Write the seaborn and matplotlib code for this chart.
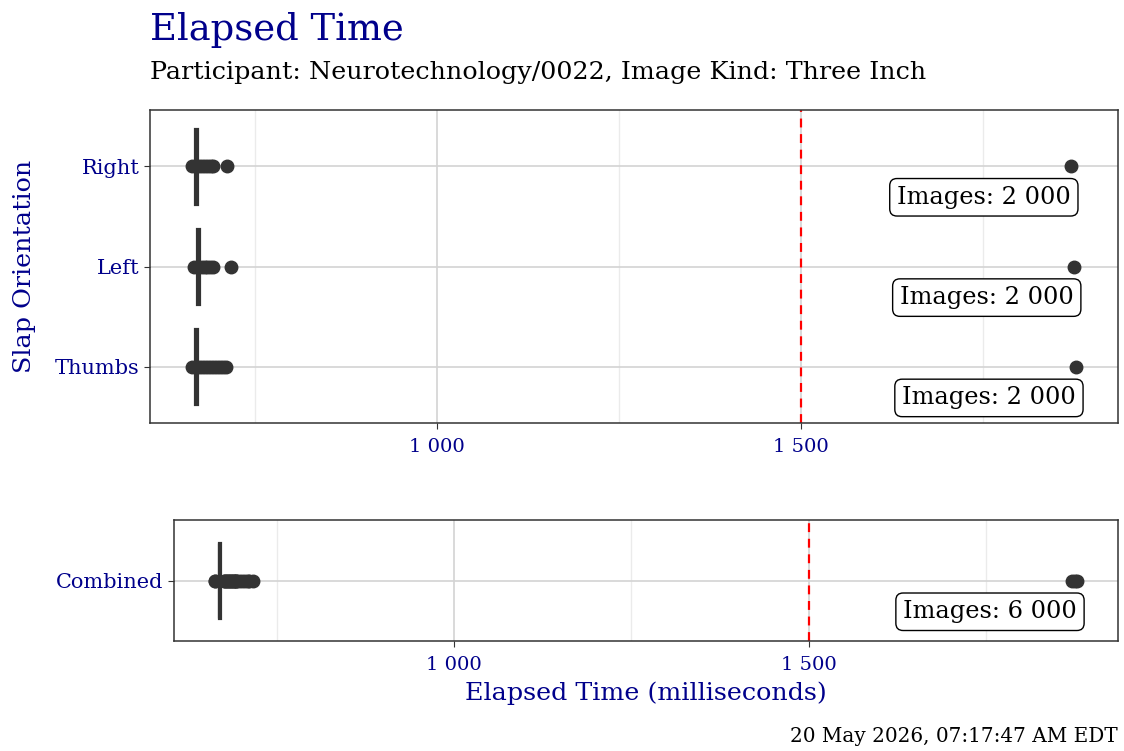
import numpy as np
import pandas as pd
import matplotlib.pyplot as plt
from matplotlib.ticker import FuncFormatter, FixedLocator
import seaborn as sb

# Slap orientations (top panel order)
orientations = ['Right', 'Left', 'Thumbs']

# Bulk of the elapsed times (ms) and how many images sit at each value
bulk_values = {
    'Right': [667, 668, 669],
    'Left': [670, 671, 672],
    'Thumbs': [667, 668, 669],
}
bulk_counts = {
    'Right': [600, 800, 591],
    'Left': [600, 800, 592],
    'Thumbs': [600, 800, 588],
}
# Outlying images
outliers = {
    'Right': [663, 673, 677, 681, 685, 689, 692, 711, 1871],
    'Left': [666, 676, 680, 684, 688, 692, 716, 1875],
    'Thumbs': [663, 673, 677, 681, 685, 689, 693, 697, 701, 705, 709, 1878],
}

title = 'Elapsed Time'
subtitle = 'Participant: Neurotechnology/0022, Image Kind: Three Inch'
timestamp = '20 May 2026, 07:17:47 AM EDT'
threshold = 1500
major_ticks = [1000, 1500]
minor_ticks = [750, 1250, 1750]

NAVY = '#00008B'
DARK = '#333333'

rows = []
for o in orientations:
    vals = list(np.repeat(bulk_values[o], bulk_counts[o])) + outliers[o]
    rows += [(o, v) for v in vals]
df = pd.DataFrame(rows, columns=['orientation', 'ms'])
df_all = df.assign(orientation='Combined')

sb.set_style('white')
plt.rcParams['font.family'] = ['DejaVu Serif']

fig = plt.figure(figsize=(11.24, 7.51), dpi=100)
ax1 = fig.add_axes([150 / 1124, 1 - 423 / 751, 968 / 1124, 313 / 751])
ax2 = fig.add_axes([174 / 1124, 1 - 641 / 751, 944 / 1124, 121 / 751])

flier = dict(marker='o', markerfacecolor=DARK, markeredgecolor=DARK, markersize=9)


def space_thousands(x, pos):
    return f'{int(x):,}'.replace(',', ' ')


def style_panel(ax, data, order, ylim):
    sb.boxplot(data=data, x='ms', y='orientation', order=order, orient='h',
               width=0.75, color='white', linecolor=DARK, linewidth=2.3,
               flierprops=flier, capprops=dict(linewidth=0), ax=ax)
    ax.axvline(threshold, color='red', linestyle=(0, (4, 3)), linewidth=1.6)
    ax.set_xlim(605, 1936)
    ax.set_ylim(*ylim)
    ax.set_xticks(major_ticks)
    ax.xaxis.set_minor_locator(FixedLocator(minor_ticks))
    ax.grid(False)
    ax.grid(True, which='minor', axis='x', color='#ebebeb', linewidth=1)
    ax.grid(True, which='major', axis='both', color='#d3d3d3', linewidth=1.2)
    ax.set_axisbelow(True)
    ax.xaxis.set_major_formatter(FuncFormatter(space_thousands))
    ax.tick_params(axis='both', which='major', length=4, color=DARK,
                   labelcolor=NAVY, left=True, bottom=True)
    ax.tick_params(axis='x', which='major', labelsize=14, pad=7)
    ax.tick_params(axis='y', which='major', labelsize=15)
    ax.tick_params(axis='x', which='minor', length=0)
    for s in ax.spines.values():
        s.set_color(DARK)
        s.set_linewidth(1.1)
    for i, o in enumerate(order):
        g = data.loc[data['orientation'] == o, 'ms']
        ax.text(g.max(), i + 0.31, f'Images: {space_thousands(len(g), 0)}',
                ha='right', va='center', fontsize=17.4, color='black',
                bbox=dict(boxstyle='round,pad=0.3,rounding_size=0.3',
                          facecolor='white', edgecolor='black', linewidth=1))
    ax.set_xlabel('')
    ax.set_ylabel('')


style_panel(ax1, df, orientations, (2.56, -0.56))
style_panel(ax2, df_all, ['Combined'], (0.6, -0.6))

fig.text(25 / 1124, 1 - 266 / 751, 'Slap Orientation', fontsize=18.3,
         color=NAVY, rotation=90, ha='center', va='center')
fig.text(646 / 1124, 1 - 693 / 751, 'Elapsed Time (milliseconds)', fontsize=18.3,
         color=NAVY, ha='center', va='center')

fig.text(150 / 1124, 1 - 30 / 751, title, fontsize=26.6, color=NAVY, va='center')
fig.text(150 / 1124, 1 - 73 / 751, subtitle, fontsize=18.3, color='black', va='center')
fig.text(1118 / 1124, 1 - 737 / 751, timestamp, fontsize=14.4, color='black',
         ha='right', va='center')

fig.savefig('out.png', dpi=100)
